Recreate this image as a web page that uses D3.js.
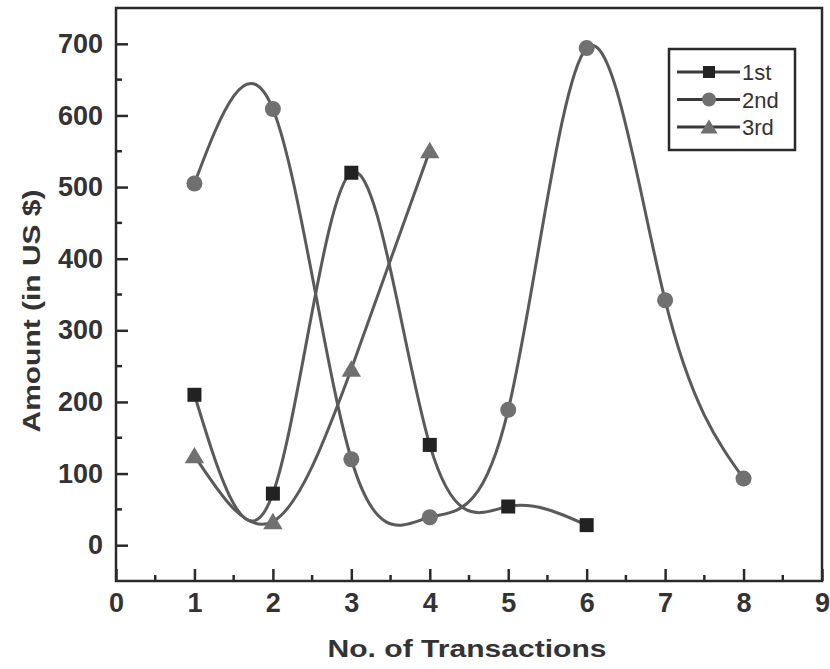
<!DOCTYPE html>
<html><head><meta charset="utf-8">
<script src="https://cdn.jsdelivr.net/npm/d3@7"></script>
<style>body{margin:0;background:#fff}svg{display:block}</style>
</head><body>
<svg id="chart" width="830" height="669"></svg>
<script>
const xTicks = [0,1,2,3,4,5,6,7,8,9];
const yTicks = [0,100,200,300,400,500,600,700];
const seriesNames = ["1st","2nd","3rd"];
const x1st = [1,2,3,4,5,6];
const y1st = [210,72,520,140,54,28];
const x2nd = [1,2,3,4,5,6,7,8];
const y2nd = [505,609,120,39,189,694,342,93];
const x3rd = [1,2,3,4];
const y3rd = [125,33,246,551];

const series = [
  {name:seriesNames[0], xs:x1st, ys:y1st, shape:"square", fill:"#222"},
  {name:seriesNames[1], xs:x2nd, ys:y2nd, shape:"circle", fill:"#707070"},
  {name:seriesNames[2], xs:x3rd, ys:y3rd, shape:"triangle", fill:"#707070"}
];

const L=116, R=822, T=8, B=581;
const svg = d3.select("#chart");
const x = d3.scaleLinear().domain([0,9]).range([L,R]);
const y = d3.scaleLinear().domain([-50,750]).range([B,T]);
const font = "'Liberation Sans', Arial, sans-serif";
const axisColor = "#2a2a2a";

// frame
svg.append("rect").attr("x",L).attr("y",T).attr("width",R-L).attr("height",B-T)
  .attr("fill","none").attr("stroke",axisColor).attr("stroke-width",2.5);

// x ticks (inward)
const xAxis = d3.axisBottom(x).tickValues(xTicks).tickSize(-12).tickPadding(12).tickFormat(d3.format("d"));
const gx = svg.append("g").attr("transform",`translate(0,${B})`).call(xAxis);
gx.select(".domain").remove();
gx.selectAll(".tick line").attr("stroke",axisColor).attr("stroke-width",2.5);
gx.selectAll("text").attr("font-family",font).attr("font-weight","bold").attr("font-size",27).attr("fill","#333");
const xMinor = d3.range(0.5,9,1);
svg.append("g").selectAll("line").data(xMinor).join("line")
  .attr("x1",d=>x(d)).attr("x2",d=>x(d)).attr("y1",B).attr("y2",B-6)
  .attr("stroke",axisColor).attr("stroke-width",2.5);

// y ticks
const yAxis = d3.axisLeft(y).tickValues(yTicks).tickSize(-12).tickPadding(13).tickFormat(d3.format("d"));
const gy = svg.append("g").attr("transform",`translate(${L},0)`).call(yAxis);
gy.select(".domain").remove();
gy.selectAll(".tick line").attr("stroke",axisColor).attr("stroke-width",2.5);
gy.selectAll("text").attr("font-family",font).attr("font-weight","bold").attr("font-size",27).attr("fill","#333");
const yMinor = d3.range(-50,751,100);
svg.append("g").selectAll("line").data(yMinor.filter(v=>v>-50&&v<750)).join("line")
  .attr("x1",L).attr("x2",L+6).attr("y1",d=>y(d)).attr("y2",d=>y(d))
  .attr("stroke",axisColor).attr("stroke-width",2.5);

// axis titles
svg.append("text").attr("x",467).attr("y",657).attr("text-anchor","middle")
  .attr("font-family",font).attr("font-weight","bold").attr("font-size",24).attr("fill","#333")
  .attr("textLength",279).attr("lengthAdjust","spacingAndGlyphs")
  .text("No. of Transactions");
svg.append("text").attr("transform",`translate(40,311) rotate(-90)`).attr("text-anchor","middle")
  .attr("font-family",font).attr("font-weight","bold").attr("font-size",24).attr("fill","#333")
  .attr("textLength",243).attr("lengthAdjust","spacingAndGlyphs")
  .text("Amount (in US $)");

// lines
const line = d3.line().x(d=>x(d[0])).y(d=>y(d[1])).curve(d3.curveNatural);
function marker(g, shape, cx, cy, fill, s){
  if(shape==="square"){
    g.append("rect").attr("x",cx-s).attr("y",cy-s).attr("width",2*s).attr("height",2*s).attr("fill",fill);
  } else if(shape==="circle"){
    g.append("circle").attr("cx",cx).attr("cy",cy).attr("r",s+1).attr("fill",fill);
  } else {
    const h=s*1.1;
    g.append("path").attr("d",`M${cx},${cy-h-1}L${cx+h+2},${cy+h}L${cx-h-2},${cy+h}Z`).attr("fill",fill);
  }
}
series.forEach(s=>{
  const pts = s.xs.map((v,i)=>[v,s.ys[i]]);
  svg.append("path").datum(pts).attr("d",line).attr("fill","none")
    .attr("stroke","#5a5a5a").attr("stroke-width",3);
});
series.forEach(s=>{
  const g = svg.append("g");
  s.xs.forEach((v,i)=>marker(g,s.shape,x(v),y(s.ys[i]),s.fill,7));
});

// legend
const lg = svg.append("g");
lg.append("rect").attr("x",669).attr("y",49).attr("width",126).attr("height",101)
  .attr("fill","#fff").attr("stroke",axisColor).attr("stroke-width",2.5);
series.forEach((s,i)=>{
  const ly = 72 + i*27.5;
  lg.append("line").attr("x1",677).attr("x2",740).attr("y1",ly).attr("y2",ly)
    .attr("stroke","#3a3a3a").attr("stroke-width",3);
  marker(lg,s.shape,709,ly,s.fill,6);
  lg.append("text").attr("x",742).attr("y",ly+8).attr("font-family",font)
    .attr("font-size",22).attr("fill","#333").attr("textLength",s.name.length>3?0:null).text(s.name);
});
</script>
</body></html>
